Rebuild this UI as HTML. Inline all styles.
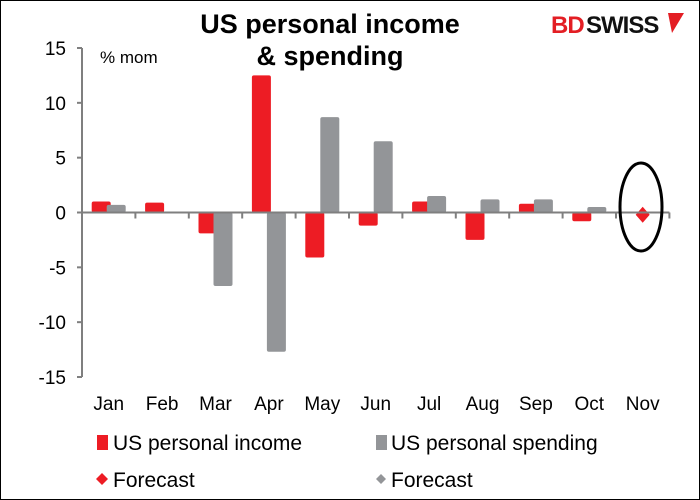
<!DOCTYPE html>
<html><head><meta charset="utf-8"><style>
body{margin:0;background:#fff;}
svg{display:block;font-family:"Liberation Sans",Arial,sans-serif;}
</style></head><body>
<svg width="700" height="500" viewBox="0 0 700 500">
<rect x="0.5" y="0.5" width="699" height="499" fill="#fff" stroke="#000" stroke-width="1"/>
<text x="330" y="33" text-anchor="middle" font-size="27" font-weight="bold">US personal income</text>
<text x="330" y="65" text-anchor="middle" font-size="27" font-weight="bold">&amp; spending</text>
<g>
<text x="551" y="33" font-size="24" font-weight="bold" fill="#e31e24" letter-spacing="-1">BD</text>
<text x="586" y="33" font-size="24" font-weight="bold" fill="#111" letter-spacing="-1">SWISS</text>
<path d="M668,13 L684,13 L672,33 Z" fill="#e31e24"/>
</g>
<text x="100" y="63" font-size="17">% mom</text>
<g id="plot"></g>
<ellipse cx="641" cy="207" rx="21" ry="44" fill="none" stroke="#000" stroke-width="3"/>
<g>
<rect x="97" y="435" width="11" height="15" fill="#ed1c24"/>
<text x="113" y="450" font-size="21">US personal income</text>
<rect x="376" y="435" width="11" height="15" fill="#939598"/>
<text x="391" y="450" font-size="21">US personal spending</text>
<path d="M102,473 L108,479 L102,485 L96,479 Z" fill="#ed1c24"/>
<text x="113" y="487" font-size="21">Forecast</text>
<path d="M381,474 L386,479 L381,484 L376,479 Z" fill="#939598"/>
<text x="391" y="487" font-size="21">Forecast</text>
</g>
</svg>
<script>
const categories=["Jan","Feb","Mar","Apr","May","Jun","Jul","Aug","Sep","Oct","Nov"];
const incomeValues=[1.0,0.9,-1.9,12.5,-4.1,-1.2,1.0,-2.5,0.8,-0.8,null];
const spendingValues=[0.7,null,-6.7,-12.7,8.7,6.5,1.5,1.2,1.2,0.5,null];
const incomeForecast=[null,null,null,null,null,null,null,null,null,null,-0.2];
const yTicks=[15,10,5,0,-5,-10,-15];
const NS="http://www.w3.org/2000/svg";
const g=document.getElementById("plot");
const x0=82,bw=53.4,yTop=48,yBot=377,vMax=15,vMin=-15;
function y(v){return yTop+(vMax-v)/(vMax-vMin)*(yBot-yTop);}
function xc(i){return x0+bw*(i+0.5);}
function mk(tag,attrs){const e=document.createElementNS(NS,tag);for(const k in attrs)e.setAttribute(k,attrs[k]);g.appendChild(e);return e;}
let e;
e=mk("line",{x1:x0,y1:yTop,x2:x0,y2:yBot,stroke:"#7f7f7f","stroke-width":2});


yTicks.forEach(t=>{
  e=mk("line",{x1:x0-5,y1:y(t),x2:x0,y2:y(t),stroke:"#7f7f7f","stroke-width":2});
  
  
  e=mk("text",{x:x0-16,y:y(t)+7,"text-anchor":"end","font-size":19});
  e.textContent=t;
  
  
});
categories.forEach((c,i)=>{
  const cx=xc(i);
  const iv=incomeValues[i];
  if(iv!==null){
    e=mk("rect",{x:cx-17,y:Math.min(y(iv),y(0)),width:19,height:Math.abs(y(iv)-y(0)),fill:"#ed1c24",rx:2});
    
    
  }
  const sv=spendingValues[i];
  if(sv!==null){
    e=mk("rect",{x:cx-2,y:Math.min(y(sv),y(0)),width:19,height:Math.abs(y(sv)-y(0)),fill:"#939598",rx:2});
    
    
  }
  const fv=incomeForecast[i];
  if(fv!==null){
    const py=y(fv);
    e=mk("path",{d:`M${cx},${py-8} L${cx+7},${py} L${cx},${py+8} L${cx-7},${py} Z`,fill:"#ed1c24"});
    
    
  }
  e=mk("text",{x:cx,y:410,"text-anchor":"middle","font-size":19});
  e.textContent=c;
  
  
});
e=mk("line",{x1:x0,y1:y(0),x2:x0+bw*categories.length,y2:y(0),stroke:"#7f7f7f","stroke-width":2});


for(let i=1;i<=categories.length;i++){
  e=mk("line",{x1:x0+bw*i,y1:y(0),x2:x0+bw*i,y2:y(0)+6,stroke:"#7f7f7f","stroke-width":2});
  
  
}
</script>
</body></html>
